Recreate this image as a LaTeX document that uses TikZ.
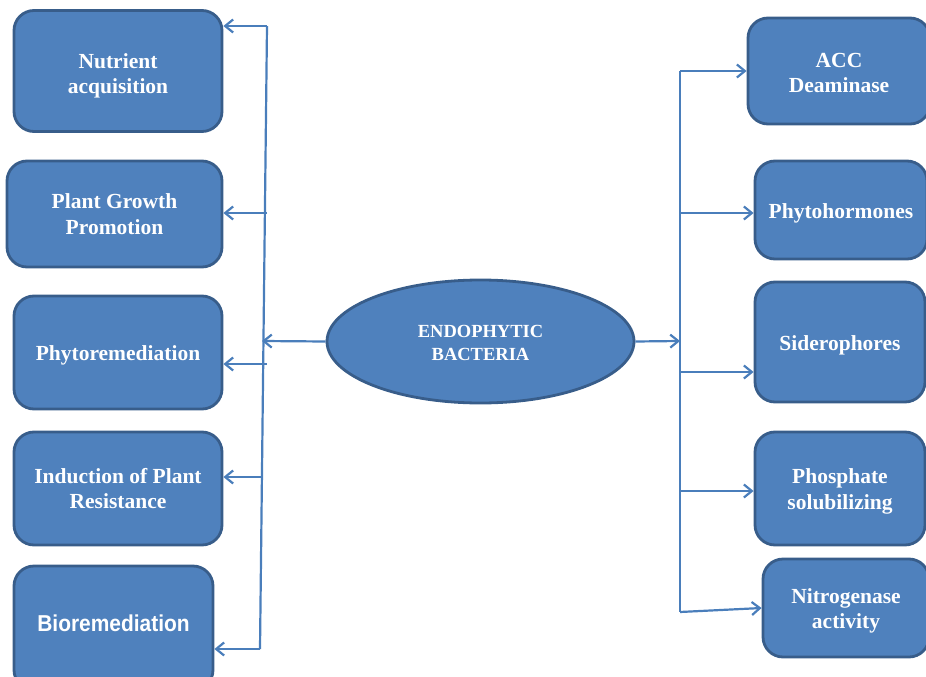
\documentclass[tikz,border=0pt]{standalone}
\usepackage{fontspec}
\setmainfont{Liberation Serif}
\newfontfamily\sansbold[FakeStretch=0.91]{Liberation Sans}
\usetikzlibrary{shapes.geometric,arrows.meta}
\definecolor{boxfill}{HTML}{4F81BD}
\definecolor{boxedge}{HTML}{385D8A}
\definecolor{linkc}{HTML}{4A7EBB}
\tikzset{
  box/.style={draw=boxedge, line width=2.8pt, fill=boxfill, rounded corners=20pt,
    inner sep=0pt},
  txt/.style={inner sep=0pt, align=center, text=white,
    font=\bfseries\fontsize{21.5}{25.5}\selectfont},
  hub/.style={ellipse, draw=boxedge, line width=2.8pt, fill=boxfill, inner sep=0pt,
    minimum width=307pt, minimum height=123pt},
  hubtxt/.style={inner sep=0pt, align=center, text=white,
    font=\bfseries\fontsize{18.5}{23}\selectfont},
  link/.style={draw=linkc, line width=2.2pt},
  arr/.style={link, -{Straight Barb[length=8pt,width=13pt,line width=2.2pt]}}
}
\begin{document}
\begin{tikzpicture}[x=1pt,y=-1pt]
\useasboundingbox (0,0) rectangle (926,677);
\path[clip] (0,0) rectangle (926,677);
% left boxes
\node[box, minimum width=208pt, minimum height=121pt] (nut) at (118,71) {};
\node[box, minimum width=215pt, minimum height=106pt] (pgp) at (114.5,214) {};
\node[box, minimum width=208pt, minimum height=113pt] (phr) at (118,352.5) {};
\node[box, minimum width=208pt, minimum height=113pt] (ipr) at (118,488.5) {};
\node[box, minimum width=199pt, minimum height=124pt] (bio) at (113.5,628) {};
\node[txt] (nut-t) at ([yshift=-5pt]nut.center) {Nutrient\\acquisition};
\node[txt] (pgp-t) at (pgp.center) {Plant Growth\\Promotion};
\node[txt] (phr-t) at ([yshift=-3pt]phr.center) {Phytoremediation};
\node[txt] (ipr-t) at (ipr.center) {Induction of Plant\\Resistance};
\node[txt, font=\sansbold\bfseries\fontsize{23}{27}\selectfont] (bio-t) at ([yshift=5pt]bio.center) {Bioremediation};
% hub
\node[hub] (eb) at (480.5,341.5) {};
\node[hubtxt] (eb-t) at ([yshift=-1pt]eb.center) {ENDOPHYTIC\\BACTERIA};
% right boxes
\node[box, minimum width=182pt, minimum height=106pt] (acc) at (839,71) {};
\node[box, minimum width=172pt, minimum height=98pt] (pho) at (841,210) {};
\node[box, minimum width=170pt, minimum height=120pt] (sid) at (840,342) {};
\node[box, minimum width=170pt, minimum height=113pt] (psb) at (840,488.5) {};
\node[box, minimum width=166pt, minimum height=98pt] (nit) at (846,608) {};
\node[txt] (acc-t) at ([yshift=-2pt]acc.center) {ACC\\Deaminase};
\node[txt] (pho-t) at ([yshift=-3pt]pho.center) {Phytohormones};
\node[txt] (sid-t) at ([yshift=-3pt]sid.center) {Siderophores};
\node[txt] (psb-t) at ([yshift=-3pt]psb.center) {Phosphate\\solubilizing};
\node[txt] (nit-t) at ([yshift=-3pt]nit.center) {Nitrogenase\\activity};
% left trunk
\coordinate (lt) at (267,26);
\coordinate (lb) at (260,649);
\coordinate (l2) at (267,213);
\coordinate (l3) at (267,364);
\coordinate (l4) at (261.5,477);
\coordinate (lm) at (262,341);
\draw[link] (lt) -- (lb);
\draw[arr] (lt) -- (nut.east |- lt);
\draw[arr] (l2) -- (pgp.east |- l2);
\draw[arr] (l3) -- (phr.east |- l3);
\draw[arr] (l4) -- (ipr.east |- l4);
\draw[arr] (lb) -- (bio.east |- lb);
\draw[arr] (eb.west) -- (lm);
% right trunk
\coordinate (rt) at (680,71);
\coordinate (rb) at (680,612);
\coordinate (r2) at (680,213);
\coordinate (r3) at (680,372);
\coordinate (r4) at (680,491);
\coordinate (rm) at (680,341);
\draw[link] (rt) -- (rb);
\draw[arr] (rt) -- (acc.west |- rt);
\draw[arr] (r2) -- (pho.west |- r2);
\draw[arr] (r3) -- (sid.west |- r3);
\draw[arr] (r4) -- (psb.west |- r4);
\draw[arr] (rb) -- (nit.west);
\draw[arr] (eb.east) -- (rm);
\end{tikzpicture}
\end{document}
